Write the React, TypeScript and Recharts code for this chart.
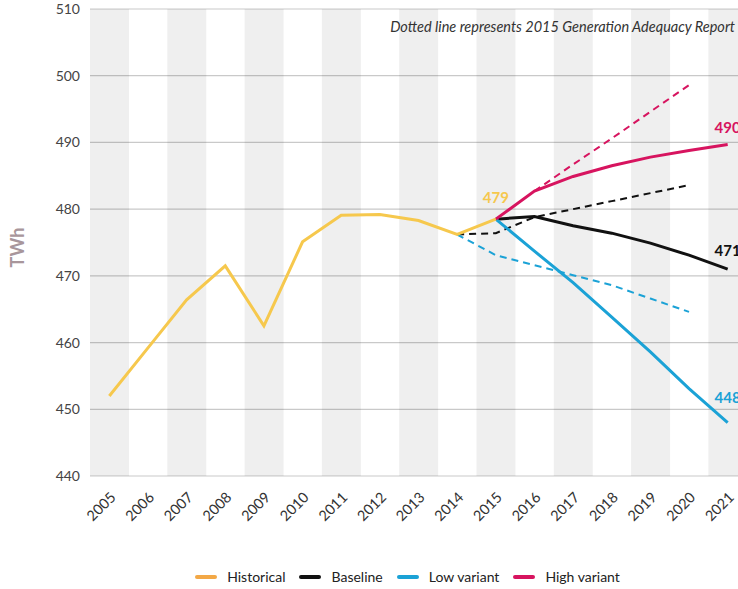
import React from "react";
import {
  Bar,
  CartesianGrid,
  ComposedChart,
  Legend,
  Line,
  XAxis,
  YAxis,
} from "recharts";

const years = [
  "2005", "2006", "2007", "2008", "2009", "2010", "2011", "2012", "2013",
  "2014", "2015", "2016", "2017", "2018", "2019", "2020", "2021",
];

// shaded columns (every other year)
const shade = [
  510, null, 510, null, 510, null, 510, null, 510,
  null, 510, null, 510, null, 510, null, 510,
];

const historical = [
  452.0, 459.2, 466.4, 471.5, 462.5, 475.1, 479.1, 479.2, 478.3,
  476.2, 478.5, null, null, null, null, null, null,
];
const baseline = [
  null, null, null, null, null, null, null, null, null,
  null, 478.5, 478.9, 477.5, 476.4, 474.9, 473.1, 471.0,
];
const lowVariant = [
  null, null, null, null, null, null, null, null, null,
  null, 478.5, 473.7, 469.0, 463.8, 458.6, 453.1, 448.0,
];
const highVariant = [
  null, null, null, null, null, null, null, null, null,
  null, 478.5, 482.7, 484.9, 486.5, 487.8, 488.8, 489.7,
];

// 2015 Generation Adequacy Report (dotted)
const gar2015Baseline = [
  null, null, null, null, null, null, null, null, null,
  476.2, 476.4, 478.8, 480.0, 481.2, 482.4, 483.6, null,
];
const gar2015Low = [
  null, null, null, null, null, null, null, null, null,
  476.2, 473.1, 471.6, 470.1, 468.6, 466.6, 464.6, null,
];
const gar2015High = [
  null, null, null, null, null, null, null, null, null,
  null, null, 482.7, 486.7, 490.6, 494.6, 498.6, null,
];

const yTicks = [440, 450, 460, 470, 480, 490, 500, 510];

const legendItems = [
  { name: "Historical", color: "#F3A846" },
  { name: "Baseline", color: "#111111" },
  { name: "Low variant", color: "#1BA2D6" },
  { name: "High variant", color: "#D7145F" },
];

const C = {
  hist: "#F6C84D",
  base: "#111111",
  low: "#1BA2D6",
  high: "#D7145F",
};

const FONT = "Lato, 'Open Sans', sans-serif";

const data = years.map((year, i) => ({
  year,
  shade: shade[i],
  historical: historical[i],
  baseline: baseline[i],
  low: lowVariant[i],
  high: highVariant[i],
  garBase: gar2015Baseline[i],
  garLow: gar2015Low[i],
  garHigh: gar2015High[i],
}));

function valueLabel(color: string, index: number, offset: number) {
  return (props: any) => {
    const { x, y, value } = props;
    if (props.index !== index || value == null) return null;
    return (
      <text
        x={x}
        y={y - offset}
        textAnchor="middle"
        fill={color}
        fontSize={15}
        fontWeight={700}
        fontFamily={FONT}
      >
        {Math.round(value)}
      </text>
    );
  };
}

function YearTick({ x, y, payload }: any) {
  return (
    <text
      x={x}
      y={y}
      dy="0.71em"
      textAnchor="end"
      transform={`rotate(-45, ${x}, ${y})`}
      fill="#333"
      fontSize={14.5}
      fontFamily={FONT}
    >
      {payload.value}
    </text>
  );
}

function UnitLabel({ viewBox }: any) {
  const cx = viewBox.x + 24;
  const cy = viewBox.y + viewBox.height / 2 + 5;
  return (
    <text
      x={cx}
      y={cy}
      textAnchor="middle"
      transform={`rotate(-90, ${cx}, ${cy})`}
      fill="#A8969B"
      fontSize={18}
      fontWeight={700}
      fontFamily={FONT}
    >
      TWh
    </text>
  );
}

function ChartLegend() {
  return (
    <div
      style={{
        height: 40,
        boxSizing: "border-box",
        paddingTop: 15,
        paddingLeft: 68,
        display: "flex",
        justifyContent: "center",
        fontFamily: FONT,
        fontSize: 14,
        lineHeight: "16px",
        color: "#222",
      }}
    >
      {legendItems.map((it) => (
        <div
          key={it.name}
          style={{ display: "flex", alignItems: "center", margin: "0 7px" }}
        >
          <span
            style={{
              display: "inline-block",
              width: 22,
              height: 4,
              borderRadius: 2,
              background: it.color,
              marginRight: 10,
            }}
          />
          <span>{it.name}</span>
        </div>
      ))}
    </div>
  );
}

export default function App() {
  return (
    <div
      style={{
        position: "fixed",
        left: 0,
        top: 0,
        width: 738,
        height: 589,
        overflow: "hidden",
        background: "#fff",
      }}
    >
      <ComposedChart
        width={757}
        height={589}
        data={data}
        margin={{ top: 9, right: 10, bottom: 0, left: 0 }}
        barCategoryGap={0}
      >
        <CartesianGrid vertical={false} stroke="#C9C9C9" strokeWidth={1.2} />
        <XAxis
          dataKey="year"
          interval={0}
          axisLine={false}
          tickLine={false}
          tickMargin={9}
          height={73}
          tick={<YearTick />}
        />
        <YAxis
          domain={[440, 510]}
          ticks={yTicks}
          width={90}
          axisLine={false}
          tickLine={false}
          tickMargin={4}
          tick={{ fontSize: 14, fill: "#444", fontFamily: FONT }}
          label={<UnitLabel />}
        />
        <Legend verticalAlign="bottom" content={<ChartLegend />} />
        <Bar
          dataKey="shade"
          fill="#000"
          fillOpacity={0.064}
          isAnimationActive={false}
          legendType="none"
        />
        <Line
          dataKey="garBase"
          stroke={C.base}
          strokeWidth={2}
          strokeDasharray="7 5"
          dot={false}
          activeDot={false}
          isAnimationActive={false}
        />
        <Line
          dataKey="garLow"
          stroke={C.low}
          strokeWidth={2}
          strokeDasharray="7 5"
          dot={false}
          activeDot={false}
          isAnimationActive={false}
        />
        <Line
          dataKey="garHigh"
          stroke={C.high}
          strokeWidth={2}
          strokeDasharray="7 5"
          dot={false}
          activeDot={false}
          isAnimationActive={false}
        />
        <Line
          dataKey="baseline"
          stroke={C.base}
          strokeWidth={3}
          dot={false}
          activeDot={false}
          isAnimationActive={false}
          label={valueLabel(C.base, 16, 13)}
        />
        <Line
          dataKey="low"
          stroke={C.low}
          strokeWidth={3}
          dot={false}
          activeDot={false}
          isAnimationActive={false}
          label={valueLabel(C.low, 16, 20)}
        />
        <Line
          dataKey="high"
          stroke={C.high}
          strokeWidth={3}
          dot={false}
          activeDot={false}
          isAnimationActive={false}
          label={valueLabel(C.high, 16, 11)}
        />
        <Line
          dataKey="historical"
          stroke={C.hist}
          strokeWidth={3}
          dot={false}
          activeDot={false}
          isAnimationActive={false}
          label={valueLabel(C.hist, 10, 16)}
        />
      </ComposedChart>
      <div
        style={{
          position: "absolute",
          top: 19,
          right: 3,
          fontFamily: FONT,
          fontStyle: "italic",
          fontSize: 14.5,
          lineHeight: "16px",
          color: "#333",
          whiteSpace: "nowrap",
        }}
      >
        Dotted line represents 2015 Generation Adequacy Report
      </div>
    </div>
  );
}
